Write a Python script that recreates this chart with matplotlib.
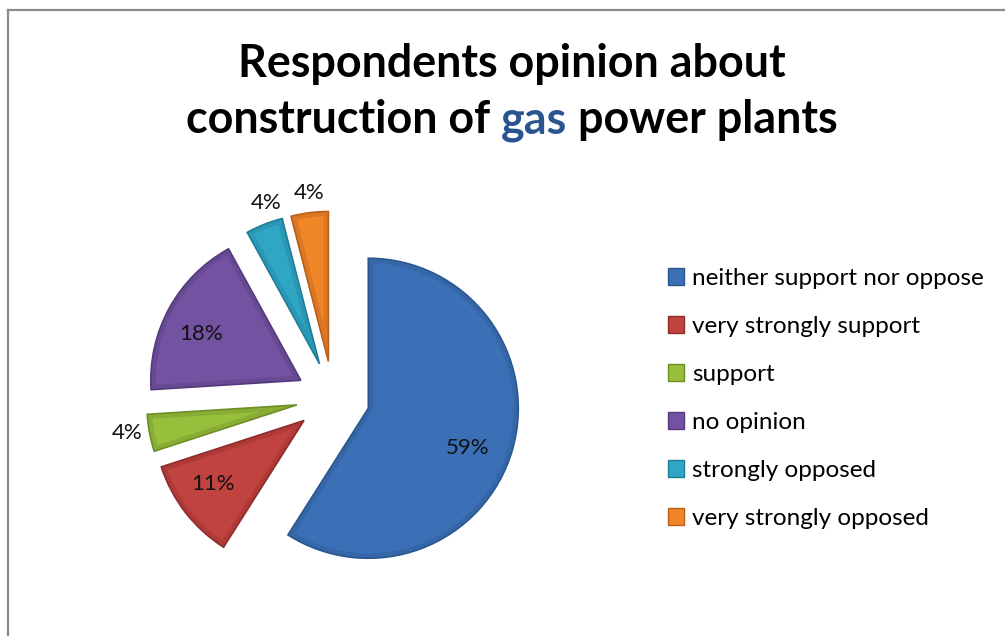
import matplotlib
matplotlib.use("Agg")
import matplotlib.pyplot as plt
from matplotlib.patches import Patch, Wedge
from matplotlib.lines import Line2D
import numpy as np

# ---- data ----
categories = ["neither support nor oppose", "very strongly support", "support",
              "no opinion", "strongly opposed", "very strongly opposed"]
values = [59, 11, 4, 18, 4, 4]
pct_labels = ["59%", "11%", "4%", "18%", "4%", "4%"]
title_line1 = "Respondents opinion about"
title_line2 = ["construction of", "gas", "power plants"]

# ---- style ----
colors = ["#3B70B6", "#C1433F", "#97BF3C", "#7452A2", "#30A6C5", "#F08628"]
edge_colors = ["#2B578F", "#8E2C2A", "#6E8E26", "#543A7A", "#1F7D97", "#B8601A"]
label_dist = [0.713, 0.74, 1.15, 0.73, 1.13, 1.13]
label_dang = [-5.8, -3.0, -1.3, 4.0, -3.3, -0.7]
FONT = "Lato"

W, H = 1005, 636
fig = plt.figure(figsize=(W / 100, H / 100), dpi=100)
fig.patch.set_facecolor("white")
ax = fig.add_axes([0, 0, 1, 1])

R = 150.0
cx, cy = 333.0, 398.0  # pie centre in pixels (from top-left)

wedges, _ = ax.pie(values, colors=colors, startangle=90, counterclock=False,
                   explode=[0.245] * len(values), radius=1.0, center=(0, 0),
                   wedgeprops=dict(linewidth=1.2))
for w, ec in zip(wedges, edge_colors):
    w.set_edgecolor(ec)
    # soft bevel rim inside each slice
    rim = Wedge(w.center, w.r, w.theta1, w.theta2, facecolor="none",
                edgecolor=ec, linewidth=7, alpha=0.35, zorder=w.get_zorder() + 0.1)
    ax.add_patch(rim)
    rim.set_clip_path(w)

ax.set_xlim(-cx / R, (W - cx) / R)
ax.set_ylim(-(H - cy) / R, cy / R)
ax.axis("off")

for w, lab, d, da in zip(wedges, pct_labels, label_dist, label_dang):
    th = np.deg2rad((w.theta1 + w.theta2) / 2.0 + da)
    x = w.center[0] + d * w.r * np.cos(th)
    y = w.center[1] + d * w.r * np.sin(th)
    ax.text(x, y, lab, ha="center", va="center", fontsize=16, family=FONT,
            color="#111111", zorder=5)

# ---- legend ----
handles = [Patch(facecolor=c, edgecolor=ec, linewidth=1.0)
           for c, ec in zip(colors, edge_colors)]
ax.legend(handles, categories, loc="upper left",
          bbox_to_anchor=(668 / W, 1 - 268 / H), bbox_transform=fig.transFigure,
          frameon=False, prop=dict(family=FONT, size=17.5),
          handlelength=0.66, handleheight=0.66, handletextpad=0.32,
          labelspacing=1.11, borderpad=0, borderaxespad=0)

# ---- title ----
TS = 32.3
fig.text(512 / W, 1 - 77 / H, title_line1, ha="center", va="baseline",
         fontsize=TS, fontweight="bold", family=FONT)
yb = 1 - 133 / H
t1 = fig.text(0, yb, title_line2[0], ha="left", va="baseline",
              fontsize=TS, fontweight="bold", family=FONT)
t2 = fig.text(0, yb, title_line2[1], fontsize=TS, fontweight="bold", family=FONT,
              color="#2A5590", ha="left", va="baseline")
t3 = fig.text(0, yb, title_line2[2], fontsize=TS, fontweight="bold", family=FONT,
              ha="left", va="baseline")
fig.canvas.draw()
r = fig.canvas.get_renderer()
w1 = t1.get_window_extent(r).width
w2 = t2.get_window_extent(r).width
w3 = t3.get_window_extent(r).width
sp_px = 0.24 * TS * 100 / 72
total = w1 + w2 + w3 + 2 * sp_px
x0 = 512 - total / 2
t1.set_position((x0 / W, yb))
t2.set_position(((x0 + w1 + sp_px) / W, yb))
t3.set_position(((x0 + w1 + w2 + 2 * sp_px) / W, yb))

# ---- border ----
bc = "#8A8A8A"
fig.add_artist(Line2D([8 / W, 8 / W], [0, 1 - 10 / H], color=bc, lw=1.6,
                      transform=fig.transFigure))
fig.add_artist(Line2D([8 / W, 1], [1 - 10 / H, 1 - 10 / H], color=bc, lw=1.6,
                      transform=fig.transFigure))

fig.savefig("out.png", dpi=100, facecolor="white")
